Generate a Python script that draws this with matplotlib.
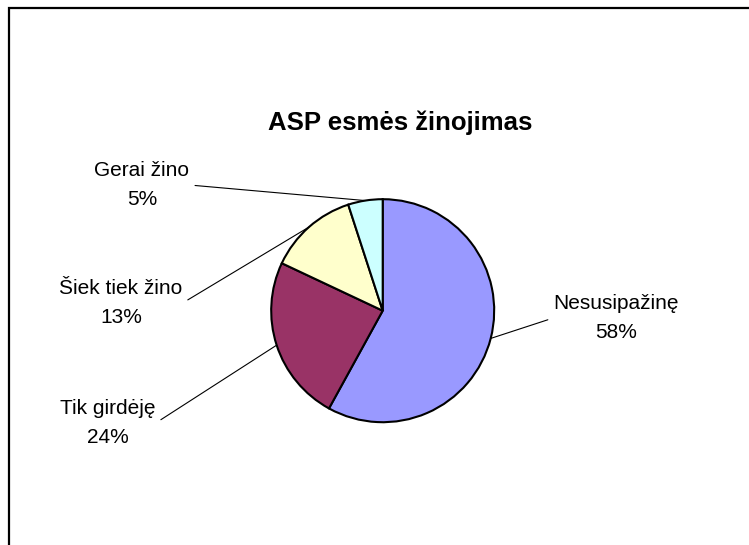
import numpy as np
import matplotlib
matplotlib.use("Agg")
import matplotlib.pyplot as plt
from matplotlib.patches import Rectangle

plt.rcParams["font.family"] = ["Liberation Sans", "DejaVu Sans"]

title = "ASP esmės žinojimas"
labels = ["Nesusipažinę", "Tik girdėję", "Šiek tiek žino", "Gerai žino"]
shares = [58, 24, 13, 5]
colors = ["#9999FF", "#993366", "#FFFFCC", "#CCFFFF"]

# label centres in figure pixels (from top-left), and which side the leader leaves from
label_pos = [(616, 318), (108, 423), (121, 303), (142, 185)]
label_side = [0.0, 1.0, 1.0, 1.0]

W, H = 749, 545
fig = plt.figure(figsize=(W / 100, H / 100), dpi=100)

# pie axes: centre (383, 311) px, radius 111.5 px
cx, cy, r = 382.7, 310.7, 111.5
ax = fig.add_axes([(cx - r) / W, (H - cy - r) / H, 2 * r / W, 2 * r / H])
wedges, _ = ax.pie(
    shares,
    colors=colors,
    startangle=90,
    counterclock=False,
    radius=1.0,
    wedgeprops=dict(edgecolor="black", linewidth=1.5),
)
ax.set_xlim(-1, 1)
ax.set_ylim(-1, 1)
ax.set_aspect("auto")
ax.axis("off")

for w, lab, val, (px, py), side in zip(wedges, labels, shares, label_pos, label_side):
    mid = np.radians((w.theta1 + w.theta2) / 2)
    ax.annotate(
        f"{lab}\n{val}%",
        xy=(np.cos(mid), np.sin(mid)),
        xytext=(px / W, 1 - py / H),
        textcoords="figure fraction",
        ha="center",
        va="center",
        fontsize=15,
        linespacing=1.7,
        arrowprops=dict(arrowstyle="-", color="black", lw=0.8,
                        relpos=(side, 0.5), shrinkA=2, shrinkB=0),
        annotation_clip=False,
    )

fig.text(400 / W, 1 - 123 / H, title, ha="center", va="center",
         fontsize=18.5, fontweight="bold")

# chart area border (only left and top fall inside the picture)
fig.add_artist(Rectangle((9 / W, -0.1), 1.2, 1 - 8 / H + 0.1,
                         transform=fig.transFigure, fill=False,
                         edgecolor="black", lw=1.6))

fig.savefig("out.png", dpi=100)
